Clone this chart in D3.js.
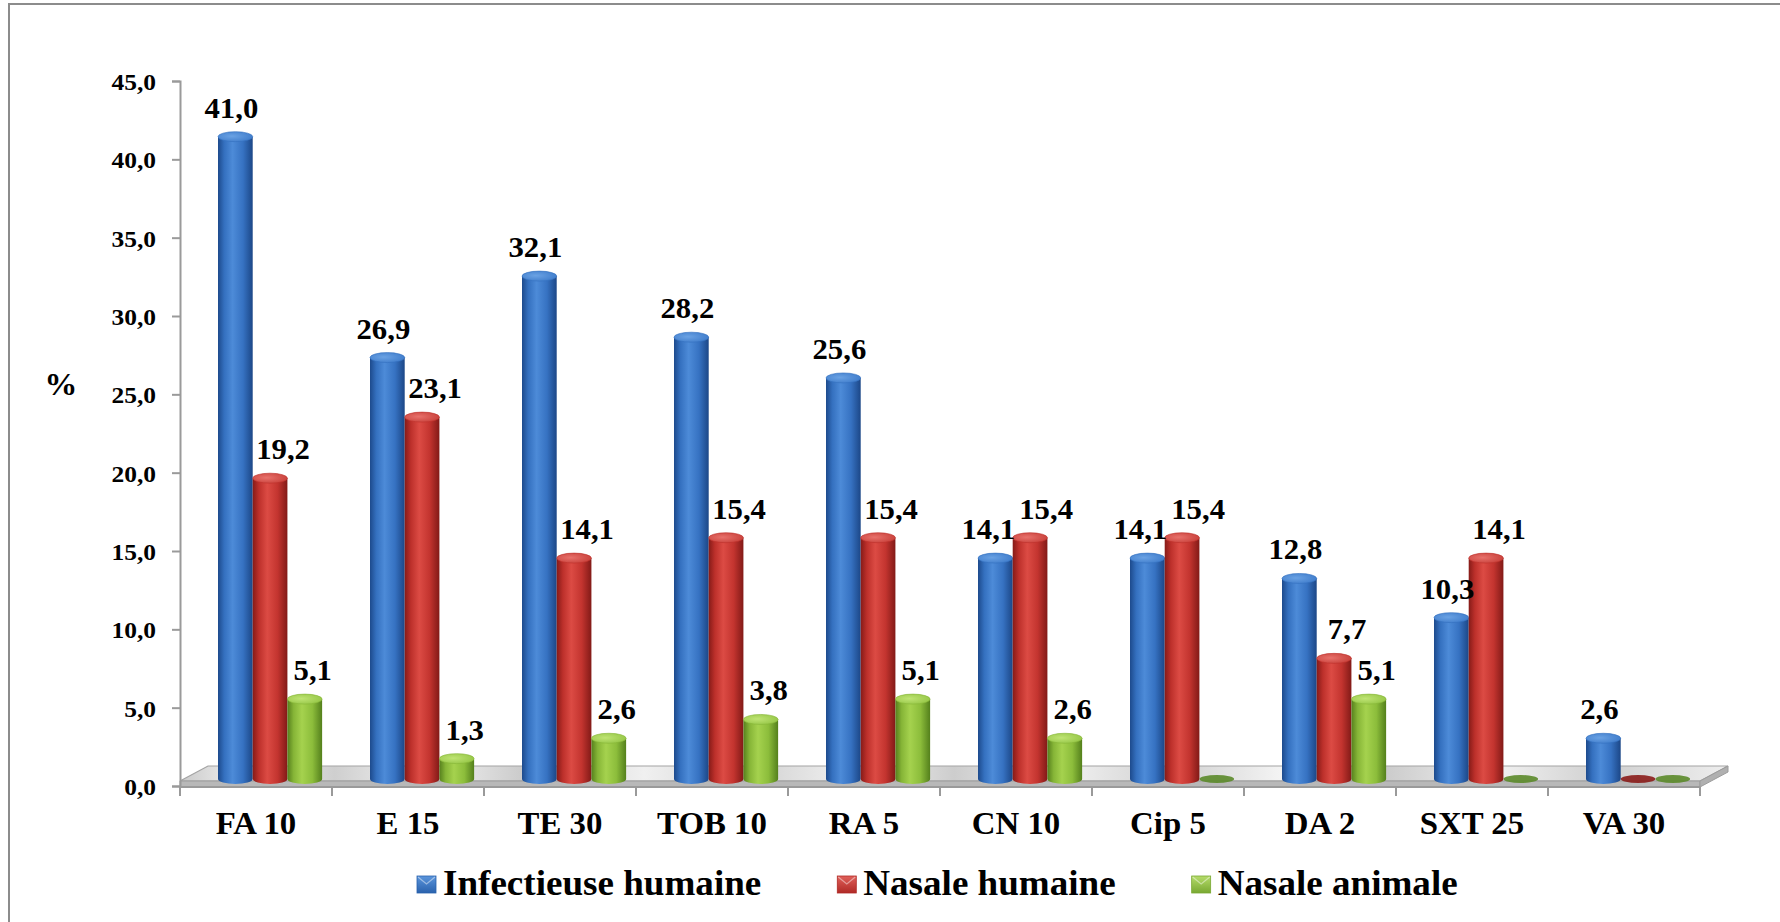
<!DOCTYPE html>
<html>
<head>
<meta charset="utf-8">
<script src="https://cdn.jsdelivr.net/npm/d3@7"></script>
<style>
  html, body { margin: 0; padding: 0; background: #ffffff; }
  svg { display: block; }
  text { font-family: "Liberation Serif", "Times New Roman", serif; font-weight: bold; fill: #000; }
</style>
</head>
<body>
<svg id="chart" width="1780" height="922"></svg>
<script>
// Resistance rates (%) per antibiotic disc and origin of isolates
const categories = ["FA 10", "E 15", "TE 30", "TOB 10", "RA 5", "CN 10", "Cip 5", "DA 2", "SXT 25", "VA 30"];
const infectieuseHumaine = [41.0, 26.9, 32.1, 28.2, 25.6, 14.1, 14.1, 12.8, 10.3, 2.6];
const nasaleHumaine      = [19.2, 23.1, 14.1, 15.4, 15.4, 15.4, 15.4, 7.7, 14.1, 0.0];
const nasaleAnimale      = [5.1, 1.3, 2.6, 3.8, 5.1, 2.6, 0.0, 5.1, 0.0, 0.0];
const seriesNames = ["Infectieuse humaine", "Nasale humaine", "Nasale animale"];
const yTickValues = [0, 5, 10, 15, 20, 25, 30, 35, 40, 45];
const yAxisTitle = "%";

const seriesValues = [infectieuseHumaine, nasaleHumaine, nasaleAnimale];

const svg = d3.select("#chart");
const defs = svg.append("defs");
const SX = 1.06; // horizontal stretch of the typeface

const fmt = v => v.toFixed(1).replace(".", ",");

// palettes for the cylinders: [edgeDark, mid, highlight, mid2, edgeDark2], top cap, flat (zero) disc
const palettes = [
  { body: ["#1d4a8c", "#3470bf", "#4d8bd8", "#3672c2", "#1c4787"], cap: ["#6aa2e4", "#3f7ccb"], flat: "#2a5aa0", legend: ["#5b95dc", "#2a62ad"], labelShift: -4 },
  { body: ["#861b18", "#bd302b", "#dc4b44", "#c3342f", "#821a17"], cap: ["#e8716b", "#c8403a"], flat: "#8a1c19", legend: ["#e0605a", "#b02a26"], labelShift: 13 },
  { body: ["#56801d", "#86b537", "#a5d24e", "#8cbd3b", "#54801c"], cap: ["#bfe474", "#95c646"], flat: "#5b8a2a", legend: ["#b5dc6a", "#79a832"], labelShift: 8 }
];

palettes.forEach((p, i) => {
  const g = defs.append("linearGradient").attr("id", "body" + i).attr("x1", "0%").attr("x2", "100%").attr("y1", "0%").attr("y2", "0%");
  [0, 0.18, 0.42, 0.72, 1].forEach((o, k) => g.append("stop").attr("offset", o).attr("stop-color", p.body[k]));
  const c = defs.append("radialGradient").attr("id", "cap" + i).attr("cx", "40%").attr("cy", "45%").attr("r", "65%");
  c.append("stop").attr("offset", 0).attr("stop-color", p.cap[0]);
  c.append("stop").attr("offset", 1).attr("stop-color", p.cap[1]);
  const l = defs.append("linearGradient").attr("id", "leg" + i).attr("x1", "0%").attr("x2", "0%").attr("y1", "0%").attr("y2", "100%");
  l.append("stop").attr("offset", 0).attr("stop-color", p.legend[0]);
  l.append("stop").attr("offset", 1).attr("stop-color", p.legend[1]);
});

// floor sheen
const fg = defs.append("linearGradient").attr("id", "floorGrad").attr("x1", "0%").attr("x2", "100%");
const floorStops = [["#c9c9c9",0],["#f2f2f2",0.04],["#cfcfcf",0.1],["#f5f5f5",0.16],["#cccccc",0.22],["#f0f0f0",0.3],["#d2d2d2",0.37],["#f4f4f4",0.44],["#cdcdcd",0.5],["#f2f2f2",0.57],["#d0d0d0",0.64],["#f3f3f3",0.71],["#cccccc",0.78],["#f1f1f1",0.85],["#cfcfcf",0.92],["#eeeeee",1]];
floorStops.forEach(s => fg.append("stop").attr("offset", s[1]).attr("stop-color", s[0]));

// outer frame
svg.append("rect").attr("x", 9).attr("y", 4).attr("width", 1800).attr("height", 1000)
  .attr("fill", "none").attr("stroke", "#8c8c8c").attr("stroke-width", 2);

// scales
const plotLeft = 180, plotRight = 1700, plotTop = 81, plotBottom = 786;
const x = d3.scaleBand().domain(categories).range([plotLeft, plotRight]).paddingInner(0).paddingOuter(0);
const bw = x.bandwidth();
const s = d3.scaleBand().domain(d3.range(seriesNames.length)).range([bw * 0.25, bw * 0.935]).padding(0);
const y = d3.scaleLinear().domain([0, 45]).range([plotBottom, plotTop]);

// depth of the 3D floor
const depthX = 28, depthY = -20;
const slab = 6;
const barDY = -7;

// floor: top face, front face, right face
const fy = plotBottom + 1;
svg.append("path")
  .attr("d", `M${plotLeft},${fy - slab} L${plotRight},${fy - slab} L${plotRight + depthX},${fy - slab + depthY + 5} L${plotLeft + depthX},${fy - slab + depthY + 5} Z`)
  .attr("fill", "url(#floorGrad)").attr("stroke", "#a3a3a3").attr("stroke-width", 1.2);
svg.append("path")
  .attr("d", `M${plotLeft},${fy - slab} L${plotRight},${fy - slab} L${plotRight},${fy} L${plotLeft},${fy} Z`)
  .attr("fill", "#b8b8b8").attr("stroke", "#9c9c9c").attr("stroke-width", 1);
svg.append("path")
  .attr("d", `M${plotRight},${fy - slab} L${plotRight + depthX},${fy - slab + depthY + 5} L${plotRight + depthX},${fy + depthY + 5} L${plotRight},${fy} Z`)
  .attr("fill", "#b0b0b0").attr("stroke", "#9c9c9c").attr("stroke-width", 1);

// y axis
const yAxis = svg.append("g").attr("transform", `translate(${plotLeft},0)`)
  .call(d3.axisLeft(y).tickValues(yTickValues).tickFormat(fmt).tickSize(8).tickPadding(16));
yAxis.select(".domain").attr("stroke", "#9a9a9a").attr("stroke-width", 2);
yAxis.selectAll(".tick line").attr("stroke", "#9a9a9a").attr("stroke-width", 2);
yAxis.selectAll(".tick text")
  .style("font-size", "24px").style("font-family", "'Liberation Serif', serif").style("font-weight", "bold")
  .attr("dy", "0.36em")
  .attr("transform", `scale(${SX},1)`)
  .attr("x", -24 / SX);

// x axis: baseline and category boundary ticks
svg.append("line").attr("x1", plotLeft).attr("x2", plotRight).attr("y1", fy).attr("y2", fy)
  .attr("stroke", "#9a9a9a").attr("stroke-width", 2);
const bounds = categories.map(c => x(c)).concat([x(categories[categories.length - 1]) + bw]);
svg.selectAll(".xtick").data(bounds).enter().append("line")
  .attr("x1", d => d).attr("x2", d => d).attr("y1", fy).attr("y2", fy + 9)
  .attr("stroke", "#9a9a9a").attr("stroke-width", 2);

const xAxis = svg.append("g").attr("transform", `translate(0,${plotBottom})`)
  .call(d3.axisBottom(x).tickSize(0).tickPadding(26));
xAxis.select(".domain").remove();
xAxis.selectAll(".tick text")
  .style("font-size", "31px").style("font-family", "'Liberation Serif', serif").style("font-weight", "bold")
  .attr("transform", `scale(${SX},1)`);
xAxis.selectAll(".tick").attr("transform", d => `translate(${x(d) + bw / 2},0)`);

// axis title
svg.append("text").text(yAxisTitle)
  .attr("transform", `translate(61,395) scale(${SX},1)`)
  .attr("text-anchor", "middle").style("font-size", "31px");

// bars as cylinders
const ry = 5;
const rx = s.bandwidth() / 2;
const bars = [];
categories.forEach((cat, ci) => {
  seriesValues.forEach((vals, si) => {
    bars.push({ cat, ci, si, v: vals[ci], cx: x(cat) + s(si) + rx });
  });
});

const barG = svg.append("g");
bars.forEach(b => {
  const yBase = y(0) + barDY;
  const p = palettes[b.si];
  if (b.v <= 0) {
    barG.append("ellipse").attr("cx", b.cx).attr("cy", yBase).attr("rx", rx).attr("ry", ry - 1)
      .attr("fill", p.flat).attr("opacity", 0.9);
    return;
  }
  const yTop = y(b.v) + barDY;
  barG.append("path")
    .attr("d", `M${b.cx - rx},${yTop} L${b.cx - rx},${yBase} A${rx},${ry} 0 0 0 ${b.cx + rx},${yBase} L${b.cx + rx},${yTop} Z`)
    .attr("fill", `url(#body${b.si})`);
  barG.append("ellipse").attr("cx", b.cx).attr("cy", yTop).attr("rx", rx).attr("ry", ry)
    .attr("fill", `url(#cap${b.si})`).attr("stroke", p.body[1]).attr("stroke-width", 0.6);
});

// value labels, pushed apart where neighbours collide
const labelSize = 29;
const labelG = svg.append("g");
categories.forEach((cat, ci) => {
  const items = bars.filter(b => b.ci === ci && b.v > 0).map(b => {
    const t = labelG.append("text").text(fmt(b.v)).style("font-size", labelSize + "px").attr("text-anchor", "middle");
    const w = t.node().getComputedTextLength() * SX;
    return { t, x: b.cx + palettes[b.si].labelShift, y: y(b.v) + barDY - ry - 14, w };
  });
  for (let i = 0; i < items.length - 1; i++) {
    const a = items[i], c = items[i + 1];
    if (Math.abs(a.y - c.y) < labelSize * 0.85) {
      const overlap = (a.w + c.w) / 2 + 4 - (c.x - a.x);
      if (overlap > 0) { a.x -= overlap / 2; c.x += overlap / 2; }
    }
  }
  items.forEach(it => it.t.attr("transform", `translate(${it.x},${it.y}) scale(${SX},1)`));
});

// legend
const legendG = svg.append("g");
let lx = 417;
const legY = 895;
seriesNames.forEach((name, i) => {
  legendG.append("rect").attr("x", lx).attr("y", legY - 19).attr("width", 19).attr("height", 17)
    .attr("fill", `url(#leg${i})`).attr("stroke", palettes[i].legend[1]).attr("stroke-width", 0.8);
  legendG.append("path")
    .attr("d", `M${lx + 1},${legY - 18} L${lx + 9.5},${legY - 11} L${lx + 18},${legY - 18}`)
    .attr("fill", "none").attr("stroke", "rgba(255,255,255,0.45)").attr("stroke-width", 1.2);
  const t = legendG.append("text").text(name).style("font-size", "35px")
    .attr("transform", `translate(${lx + 26},${legY}) scale(${SX},1)`);
  const w = t.node().getComputedTextLength() * SX;
  lx += 26 + w + 76;
});
</script>
</body>
</html>
